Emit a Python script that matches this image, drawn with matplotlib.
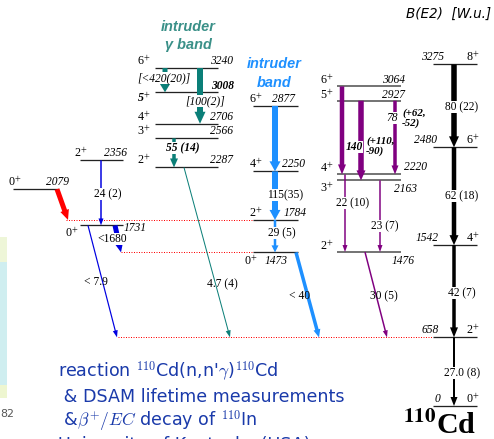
import matplotlib.pyplot as plt
from matplotlib.patches import FancyArrowPatch, ArrowStyle, Rectangle

# level energies (keV) and spins, all positive parity
gs_E = [0, 658, 1542, 2480, 3275]
gs_J = [0, 2, 4, 6, 8]
intr_E = [1473, 1784, 2250, 2877]
intr_J = [0, 2, 4, 6]
gam_E = [2287, 2566, 2706, 3008, 3240]
gam_J = [2, 3, 4, 5, 6]
qg_E = [1476, 2163, 2220, 2927, 3064]
qg_J = [2, 3, 4, 5, 6]
oth_E = [2079, 2356, 1731]
oth_J = [0, 2, 0]

# B(E2) values in W.u., ground band from bottom up
gs_be2 = ["27.0 (8)", "42 (7)", "62 (18)", "80 (22)"]
intr_be2 = ["29 (5)", "115(35)"]
qg_be2 = ["23 (7)", "22 (10)"]
out_be2 = ["< 40", "30 (5)", "4.7 (4)", "< 7.9"]

TEAL = "#0b7f78"
PURPLE = "#800080"
IBLUE = "#1e90ff"
DBLUE = "#0000e0"
TXTBLUE = "#1a3aaa"

plt.rcParams["font.family"] = "Liberation Serif"
plt.rcParams["mathtext.fontset"] = "stix"

W, H = 494, 439
fig = plt.figure(figsize=(W / 72, H / 72), dpi=72)
ax = fig.add_axes([0, 0, 1, 1])
Y0, KPX = 406, 1 / 0.1043          # ground state row, keV per pixel
ax.set_xlim(0, W)
ax.set_ylim((Y0 - H) * KPX, Y0 * KPX)
ax.axis("off")


def ypx(y):
    return (Y0 - y) * KPX


def level(E, x0, x1, color="#222222", lw=1.3):
    ax.plot([x0, x1], [E, E], color=color, lw=lw, solid_capstyle="butt")


def lab(x, E, dy, s, size=11.5, **kw):
    ax.text(x, E + dy * KPX, s, ha="center", va="center", fontsize=size, **kw)


def spin(x, E, dy, J, **kw):
    lab(x, E, dy, f"{J}$^{{+}}$", size=12, **kw)


def arrow(x0, E0, x1, E1, color, tw, hw, hl):
    st = ArrowStyle.Simple(head_length=hl, head_width=hw, tail_width=tw)
    ax.add_patch(FancyArrowPatch((x0, E0), (x1, E1), arrowstyle=st,
                                 mutation_scale=1, color=color, lw=0,
                                 shrinkA=0, shrinkB=0, zorder=3))


def be2(x, y, s, pad=0.3, **kw):
    ax.text(x, ypx(y), s, ha="center", va="center", fontsize=11.5, zorder=4,
            bbox=dict(fc="white", ec="none", pad=pad), **kw)


# dotted guide lines
dot = dict(color="red", ls=(0, (1, 1.5)), lw=1.0, zorder=1)
ax.plot([66, 253], [intr_E[1], intr_E[1]], **dot)
ax.plot([121, 253], [intr_E[0], intr_E[0]], **dot)
ax.plot([118, 433], [gs_E[1], gs_E[1]], **dot)

# ground band
for E, J in zip(gs_E, gs_J):
    level(E, 433, 477)
    spin(473, E, 7, J)
for E, dx in zip(gs_E, [437, 430, 427, 426, 433]):
    lab(dx, E, 7, str(E) if E else "0", style="italic")
gs_w = [(2, 7, 9), (3.5, 8, 10), (4.5, 9, 10), (5.5, 10, 11)]
for i, (tw, hw, hl) in enumerate(gs_w):
    arrow(454, gs_E[i + 1], 454, gs_E[i], "black", tw, hw, hl)
for s, y in zip(gs_be2, [373, 293, 196, 107]):
    be2(462, y, s)

# intruder band
for E, J in zip(intr_E, intr_J):
    level(E, 253, 298)
spin(251, intr_E[0], -9, 0)
lab(276, intr_E[0], -9, str(intr_E[0]), style="italic")
for E, J, xe in zip(intr_E[1:], intr_J[1:], [295, 294, 284]):
    spin(256, E, 7, J)
    lab(xe, E, 7, str(E), style="italic")
arrow(275, intr_E[3], 275, intr_E[2], IBLUE, 6, 11, 10)
arrow(275, intr_E[2], 275, intr_E[1], IBLUE, 6, 11, 10)
arrow(275, intr_E[1], 275, intr_E[0], IBLUE, 2.5, 7, 7)
arrow(296, intr_E[0], 319, gs_E[1], IBLUE, 3.5, 7, 8)
be2(282, 233, intr_be2[0])
be2(285, 195, intr_be2[1])
ax.text(300, ypx(296), out_be2[0], ha="center", va="center", fontsize=11.5)
ax.text(274, ypx(64), "intruder", ha="center", va="center", fontsize=14.5,
        family="Liberation Sans", weight="bold", style="italic", color=IBLUE)
ax.text(274, ypx(83), "band", ha="center", va="center", fontsize=14.5,
        family="Liberation Sans", weight="bold", style="italic", color=IBLUE)

# quasi-gamma band
for E in qg_E:
    level(E, 337, 401, color="#555555", lw=1.6)
spin(327, qg_E[0], 6, 2)
lab(403, qg_E[0], -9, str(qg_E[0]), style="italic")
spin(327, qg_E[1], -8, 3)
lab(406, qg_E[1], -9, str(qg_E[1]), style="italic")
spin(327, qg_E[2], 6, 4)
lab(416, qg_E[2], 7, str(qg_E[2]), style="italic")
for E, J in zip(qg_E[3:], qg_J[3:]):
    spin(327, E, 6, J)
    lab(394, E, 6, str(E), style="italic")
arrow(342, qg_E[4], 342, qg_E[2], PURPLE, 4.5, 8, 10)
arrow(361, qg_E[3], 361, qg_E[1], PURPLE, 5.5, 9, 10)
arrow(395, qg_E[3], 395, qg_E[2], PURPLE, 3.5, 7, 9)
arrow(345, qg_E[2], 345, qg_E[0], PURPLE, 1.5, 5, 7)
arrow(380, qg_E[1], 380, qg_E[0], PURPLE, 1.5, 5, 7)
arrow(365, qg_E[0], 387, gs_E[1], PURPLE, 1.5, 5, 7)
be2(385, 226, qg_be2[0])
be2(353, 203, qg_be2[1])
ax.text(384, ypx(296), out_be2[1], ha="center", va="center", fontsize=11.5)
be2(354, 147, "140", pad=0.2, style="italic", weight="bold")
ax.text(366, ypx(146), "(+110,\n-90)", ha="left", va="center", fontsize=11,
        style="italic", weight="bold", linespacing=1.0)
be2(392, 118, "78", pad=0.2, style="italic")
ax.text(402, ypx(118), "(+62,\n-52)", ha="left", va="center", fontsize=11,
        style="italic", weight="bold", linespacing=1.0)

# intruder gamma band
for E, J in zip(gam_E, gam_J):
    level(E, 155, 218)
    if J == 5:
        lab(144, E, -6, f"{J}$^{{+}}$", size=12, weight="bold", style="italic")
        lab(223, E, 6, str(E), weight="bold", style="italic")
    else:
        spin(144, E, 7, J)
        lab(222, E, 7, str(E), style="italic")
arrow(165, gam_E[4], 165, gam_E[3], TEAL, 5, 11, 9)
arrow(200, gam_E[4], 200, gam_E[2], TEAL, 6, 11, 12)
arrow(174, gam_E[1], 174, gam_E[0], TEAL, 3.5, 8, 9)
arrow(184, gam_E[0], 230, gs_E[1], TEAL, 1.0, 5, 7)
be2(164, 78, "[<420(20)]", pad=0.1, style="italic")
be2(205, 101, "[100(2)]", pad=0.1, style="italic")
be2(183, 148, "55 (14)", pad=0.1, style="italic", weight="bold")
ax.text(222, ypx(284), out_be2[2], ha="center", va="center", fontsize=11.5)
ax.text(188, ypx(27), "intruder", ha="center", va="center", fontsize=14.5,
        family="Liberation Sans", weight="bold", style="italic", color="#3a9088")
ax.text(188, ypx(45), "γ band", ha="center", va="center", fontsize=14.5,
        family="Liberation Sans", weight="bold", style="italic", color="#3a9088")

# other low-lying states
level(oth_E[0], 13, 58)
spin(15, oth_E[0], 7, oth_J[0])
lab(57, oth_E[0], 7, str(oth_E[0]), style="italic")
level(oth_E[1], 80, 123)
spin(81, oth_E[1], 7, oth_J[1])
lab(115, oth_E[1], 7, str(oth_E[1]), style="italic")
level(oth_E[2], 80, 123)
spin(72, oth_E[2], -8, oth_J[2])
lab(135, oth_E[2], -3, str(oth_E[2]), style="italic")
arrow(57, oth_E[0], 68, intr_E[1], "red", 5, 9, 10)
arrow(101, oth_E[1], 101, oth_E[2], DBLUE, 1.5, 5, 7)
arrow(115, oth_E[2], 121, intr_E[0], DBLUE, 5, 8, 9)
arrow(88, oth_E[2], 117, gs_E[1], DBLUE, 1.2, 5, 7)
be2(108, 194, "24 (2)")
be2(112, 239, "<1680", pad=0.0)
ax.text(96, ypx(282), out_be2[3], ha="center", va="center", fontsize=11.5)

# headers and nucleus label
ax.text(491, ypx(14), "B(E2)  [W.u.]", ha="right", va="center", fontsize=13.5,
        family="DejaVu Sans", style="italic")
ax.text(476, ypx(434), "$^{\\mathbf{110}}$Cd", ha="right", va="baseline",
        fontsize=30, weight="bold")

# reaction notes
notes = ["reaction $^{110}$Cd(n,n'$\\gamma$)$^{110}$Cd",
         " & DSAM lifetime measurements",
         " &$\\beta^{+}/EC$ decay of $^{110}$In",
         "University of Kentucky (USA)"]
for i, s in enumerate(notes):
    ax.text(58, ypx(377 + 24.5 * i), s, ha="left", va="baseline", fontsize=17.5,
            family="DejaVu Sans", color=TXTBLUE, math_fontfamily="cm")

# edge of a neighbouring figure
for y0, y1, c in [(237, 262, "#eef6d8"), (262, 385, "#cfeef0"), (385, 398, "#eef6d0")]:
    ax.add_patch(Rectangle((0, ypx(y1)), 7, ypx(y0) - ypx(y1), fc=c, ec="none"))
ax.text(0, ypx(414), "82", ha="left", va="center", fontsize=11,
        family="DejaVu Sans", color="#555555")

fig.savefig("out.png", dpi=72)
